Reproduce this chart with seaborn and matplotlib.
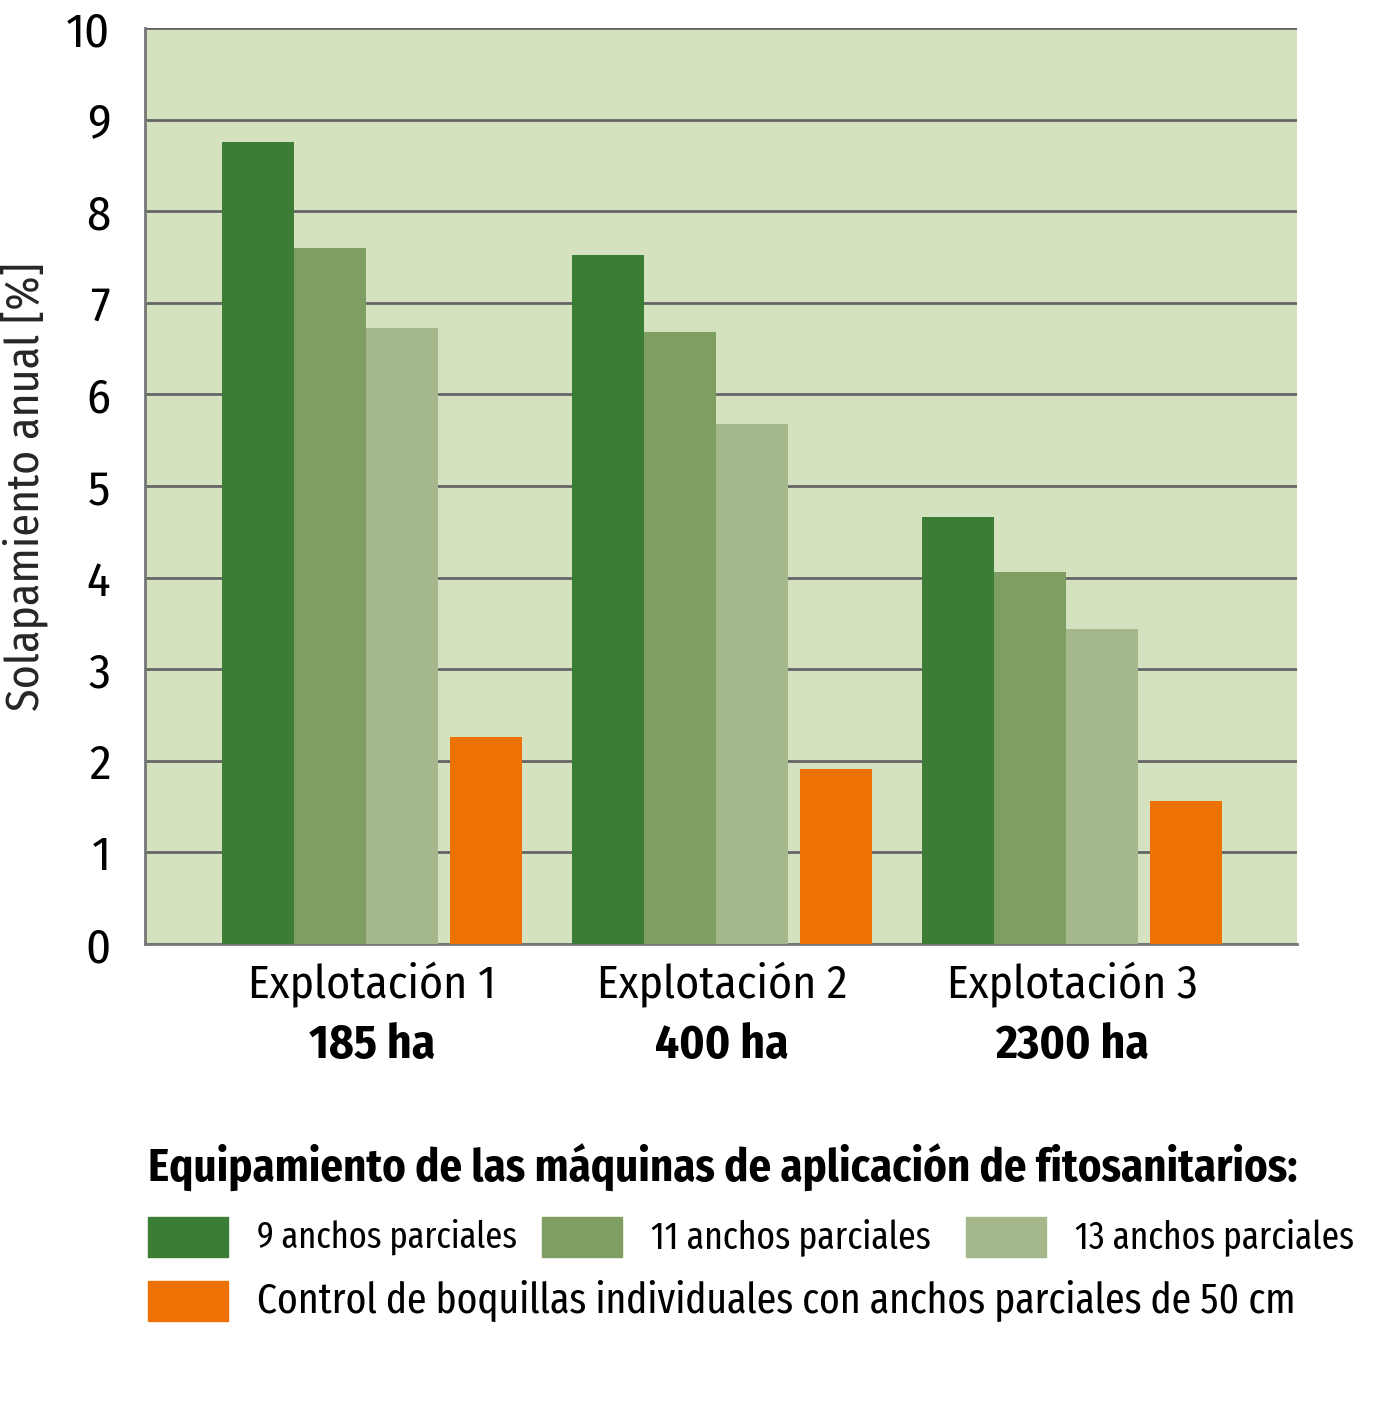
import numpy as np
import pandas as pd
import matplotlib
matplotlib.use("Agg")
import matplotlib.pyplot as plt
from matplotlib.patches import Rectangle
import seaborn as sns

# valeurs
explotaciones = ["Explotación 1", "Explotación 2", "Explotación 3"]
superficies = ["185 ha", "400 ha", "2300 ha"]
series = ["9 anchos parciales", "11 anchos parciales", "13 anchos parciales",
          "Control de boquillas individuales con anchos parciales de 50 cm"]
titulo_leyenda = "Equipamiento de las máquinas de aplicación de fitosanitarios:"
v9 = [8.75, 7.52, 4.66]
v11 = [7.60, 6.68, 4.06]
v13 = [6.73, 5.68, 3.44]
vcontrol = [2.26, 1.91, 1.56]
colores = ["#3b7d34", "#7e9e63", "#a5b88b", "#ee7203"]

sns.set_style("white")
police = ['Fira Sans Condensed', 'Roboto Condensed', 'PT Sans Narrow', 'DejaVu Sans']
police_etroite = ['Fira Sans Extra Condensed', 'Fira Sans Condensed', 'Roboto Condensed', 'DejaVu Sans']
plt.rcParams['font.family'] = police
plt.rcParams['text.color'] = 'black'
plt.rcParams['ytick.color'] = 'black'

W, H = 1379, 1421
fig = plt.figure(figsize=(W/100, H/100), dpi=100)
ax = fig.add_axes([145/W, 477/H, 1152/W, 916/H])
ax.set_facecolor("#d5e2c0")

# décalage de chaque série dans le groupe (en unités de groupe)
decalages = [-114/350, -42/350, 30/350, 114/350]
largeur = 72/350
valeurs = [v9, v11, v13, vcontrol]
for i in range(4):
    df = pd.DataFrame({"x": np.arange(3) + decalages[i], "y": valeurs[i]})
    sns.barplot(data=df, x="x", y="y", native_scale=True, width=largeur,
                color=colores[i], saturation=1, ax=ax, zorder=3, linewidth=0)

ax.set_xlim(-227/350, -227/350 + 1152/350)
ax.set_ylim(0, 10)
ax.set_yticks(range(11))
ax.tick_params(axis='y', labelsize=35, length=25, width=2, color="#666666", pad=0)
ax.yaxis.grid(True, color="#666666", linewidth=2, zorder=1)
ax.set_axisbelow(True)
for s in ["top", "right"]:
    ax.spines[s].set_visible(False)
for s in ["left", "bottom"]:
    ax.spines[s].set_color("#777777")
    ax.spines[s].set_linewidth(2)
ax.set_xticks([])
ax.set_xlabel("")
ax.set_ylabel("Solapamiento anual [%]", fontsize=33)
ax.yaxis.set_label_coords(-97/1152, (944-487)/916)

for i in range(3):
    ax.text(i, -0.2, explotaciones[i], ha="center", va="top", fontsize=33)
    ax.text(i, -0.86, superficies[i], ha="center", va="top", fontsize=34,
            fontweight="bold")

# légende faite à la main
renderer = fig.canvas.get_renderer()

def ajuste(t, largeur_cible):
    # ajuste la taille pour obtenir la largeur voulue
    bb = t.get_window_extent(renderer=renderer)
    t.set_fontsize(t.get_fontsize() * largeur_cible / bb.width)

t = fig.text(148/W, 1-1168/H, titulo_leyenda, fontsize=30, fontweight="bold",
             va="center", ha="left")
ajuste(t, 1149)
pos = [(148, 1237), (542, 1237), (966, 1237), (148, 1301)]
largeurs = [260, 279, 278, 1040]
for i in range(4):
    x0, y0 = pos[i]
    fig.add_artist(Rectangle((x0/W, 1-(y0+20)/H), 80/W, 40/H,
                             transform=fig.transFigure, color=colores[i]))
    t = fig.text((x0+109)/W, 1-y0/H, series[i], fontsize=28, va="center",
                 ha="left", family=police_etroite)
    ajuste(t, largeurs[i])

fig.savefig("out.png", dpi=100)
